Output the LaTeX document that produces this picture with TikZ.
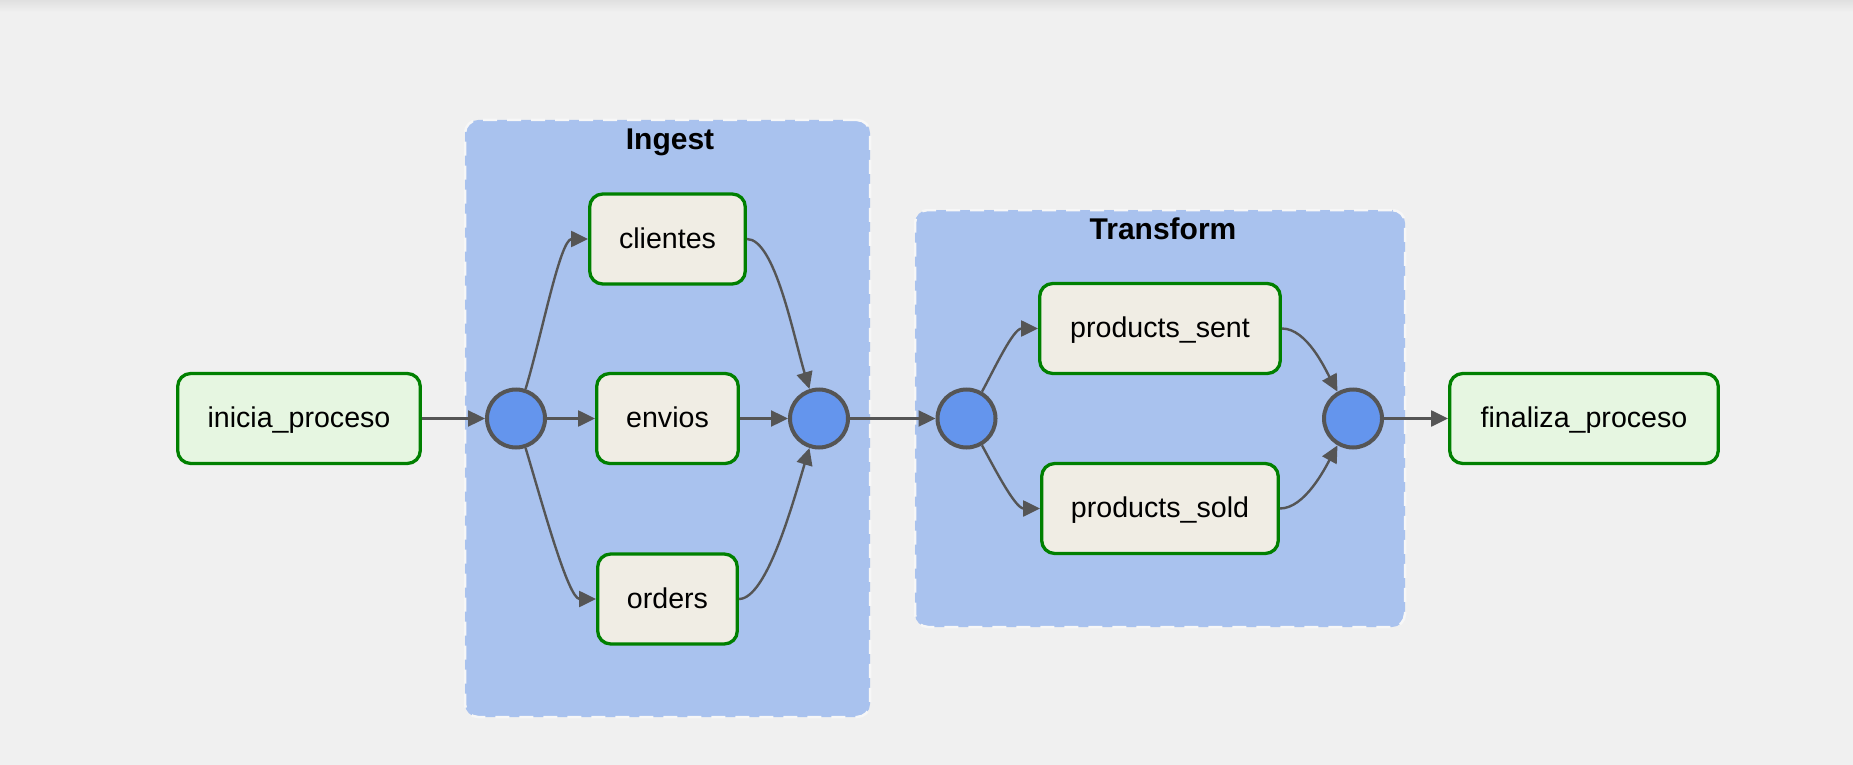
\documentclass[tikz,border=0pt]{standalone}
\usepackage{fontspec}
\setmainfont{Liberation Sans}
\usetikzlibrary{arrows.meta,calc}
\definecolor{bgc}{HTML}{F0F0F0}
\definecolor{bgtop}{HTML}{E0E0E0}
\definecolor{grpc}{HTML}{A9C2EE}
\definecolor{grpline}{HTML}{F7F7F7}
\definecolor{joinc}{HTML}{6495ED}
\definecolor{darkc}{HTML}{555555}
\definecolor{taskc}{HTML}{F0EDE4}
\definecolor{emptyc}{HTML}{E6F6E1}
\definecolor{okc}{HTML}{008000}
\begin{document}
\begin{tikzpicture}[x=0.5pt,y=-0.5pt,
  grpbox/.style={draw=grpline, fill=grpc, line width=1.25pt, dash pattern=on 7pt off 5pt, rounded corners=6.5pt, inner sep=0pt},
  grouptitle/.style={anchor=base, inner sep=0pt, font=\fontsize{15pt}{18pt}\selectfont\bfseries},
  taskbox/.style={draw=okc, fill=taskc, line width=1.65pt, rounded corners=6.5pt, minimum height=45pt, inner sep=0pt, text height=1.08em, text depth=0.14em, font=\fontsize{14.3pt}{17pt}\selectfont},
  emptytask/.style={taskbox, fill=emptyc},
  joinnode/.style={circle, draw=darkc, fill=joinc, line width=2pt, minimum size=29pt, inner sep=0pt},
  conn/.style={draw=darkc, line width=1.2pt, -{Triangle[length=8.5pt,width=8pt]}}
]
\useasboundingbox (0,0) rectangle (1853,765);
\fill[bgc] (0,0) rectangle (1853,765);
\shade[top color=bgtop, bottom color=bgc] (0,0) rectangle (1853,12);

% groups
\node[grpbox, minimum width=202.5pt, minimum height=298.5pt] (ingest) at (667.5,418.5) {};
\node[grpbox, minimum width=245pt, minimum height=208.5pt] (transform) at (1160,418.5) {};
\node[grouptitle] (ingesttitle) at ($(ingest.north)+(2.5,31)$) {Ingest};
\node[grouptitle] (transformtitle) at ($(transform.north)+(3,31)$) {Transform};

% tasks
\node[emptytask, minimum width=121.3pt] (inicia) at (299,418.5) {inicia\_proceso};
\node[taskbox, minimum width=77.8pt] (clientes) at (667.5,239) {clientes};
\node[taskbox, minimum width=70.8pt] (envios) at (667.5,418.5) {envios};
\node[taskbox, minimum width=69.8pt] (orders) at (667.5,599) {orders};
\node[taskbox, minimum width=120.3pt] (psent) at (1160,328.5) {products\_sent};
\node[taskbox, minimum width=118.3pt] (psold) at (1160,508.5) {products\_sold};
\node[emptytask, minimum width=134.3pt] (finaliza) at (1584,418.5) {finaliza\_proceso};

% join circles
\node[joinnode] (c1) at (516,418.5) {};
\node[joinnode] (c2) at (819,418.5) {};
\node[joinnode] (c3) at (966.5,418.5) {};
\node[joinnode] (c4) at (1353,418.5) {};

% connectors
\draw[conn] (inicia.east) -- (c1.west);
\draw[conn] (c1.72) .. controls +(16,-53) and +(-28,0) .. (clientes.west);
\draw[conn] (c1.east) -- (envios.west);
\draw[conn] (c1.-72) .. controls +(16,53) and +(-28,0) .. (orders.west);
\draw[conn] (clientes.east) .. controls +(28,0) and +(-16,-53) .. (c2.108);
\draw[conn] (envios.east) -- (c2.west);
\draw[conn] (orders.east) .. controls +(28,0) and +(-16,53) .. (c2.-108);
\draw[conn] (c2.east) -- (c3.west);
\draw[conn] (c3.60) .. controls +(12,-22) and +(-25,0) .. (psent.west);
\draw[conn] (c3.-60) .. controls +(12,22) and +(-25,0) .. (psold.west);
\draw[conn] (psent.east) .. controls +(25,0) and +(-12,-22) .. (c4.120);
\draw[conn] (psold.east) .. controls +(25,0) and +(-12,22) .. (c4.-120);
\draw[conn] (c4.east) -- (finaliza.west);
\end{tikzpicture}
\end{document}
